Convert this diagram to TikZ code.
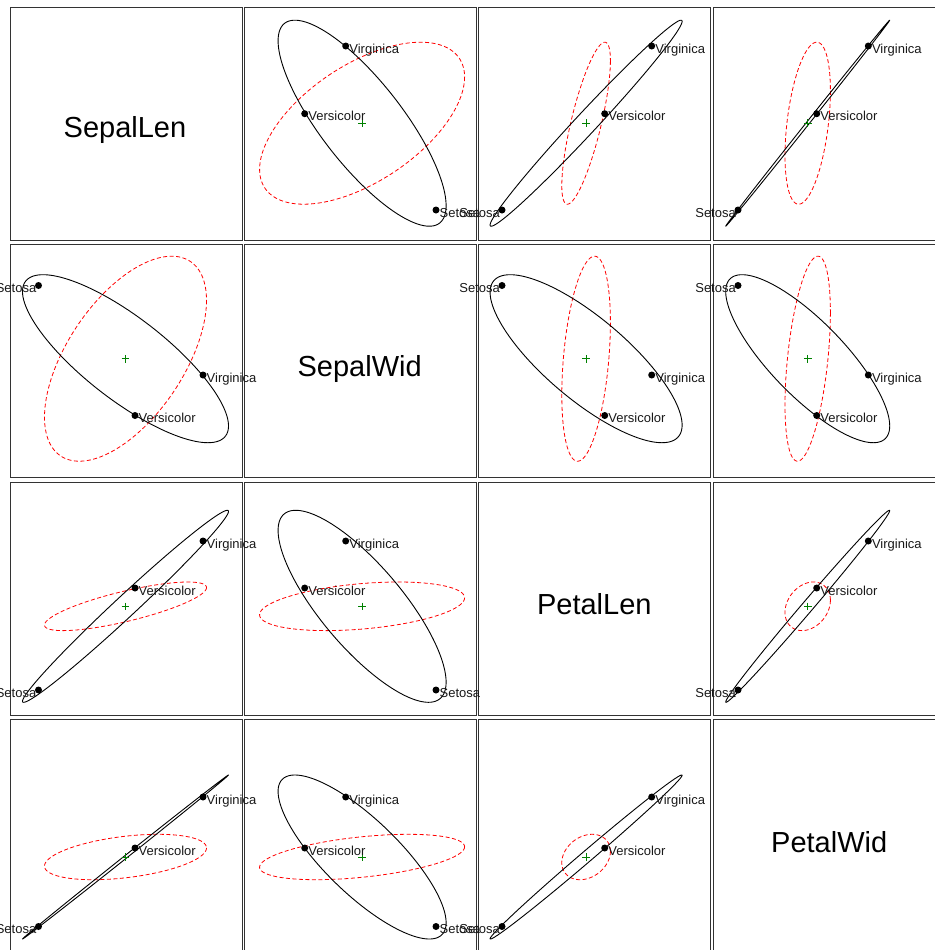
\documentclass[tikz,border=0pt]{standalone}
\usepackage{fontspec}
\setmainfont{Liberation Sans}
\begin{document}
\begin{tikzpicture}[x=1bp,y=-1bp,
  frame/.style={draw=black!80, line width=0.8bp},
  hell/.style={draw=black, line width=0.9bp, line join=round},
  eell/.style={draw=red, line width=0.8bp, dash pattern=on 4bp off 2.5bp},
  dot/.style={circle, fill=black, inner sep=0pt, minimum size=7bp},
  lab/.style={inner sep=0pt, text=black!90, font=\fontsize{13bp}{15bp}\selectfont},
  diag/.style={inner sep=0pt, font=\fontsize{29bp}{33bp}\selectfont},
  cent/.style={draw=green!50!black, line width=0.9bp}]
\useasboundingbox (0,0) rectangle (935,950);
\fill[white] (0,0) rectangle (935,950);
% layout
\def\colL{{10,244,478,713}}
\def\rowT{{7,244,482,719}}
% per-variable positions (x within a column, y within a row)
\def\xC{{115.5,118.1,108.1,94.7}}
\def\yC{{116.2,114.7,124.3,138}}
\def\xVi{{193,101.7,173.7,155.3}}
\def\xVe{{125,60.7,126.7,103.7}}
\def\xSe{{28.5,192,24,25}}
\def\yVi{{39,131,59,78}}
\def\yVe{{106.7,171.5,106,129}}
\def\ySe{{203,41.5,208,207.5}}
% half extents of H and E ellipses
\def\hh{{103,84,96,82}}
\def\ee{{81,102.5,24.3,22.7}}
% correlations (image coordinates)
\def\rH{{1,0.80,-0.9885,-0.9995, 0.80,1,0.79,0.80, -0.9885,0.79,1,-0.996, -0.9995,0.80,-0.996,1}}
\def\rE{{1,-0.57,-0.77,-0.40, -0.57,1,-0.35,-0.45, -0.77,-0.35,1,-0.25, -0.40,-0.45,-0.25,1}}
% frames
\foreach \i in {1,...,4}{
  \foreach \j in {1,...,4}{
    \pgfmathsetmacro{\fx}{\colL[\j-1]}
    \pgfmathsetmacro{\fy}{\rowT[\i-1]}
    \draw[frame] (\fx,\fy) rectangle ++(232,233);
  }
}
% diagonal titles
\foreach \k/\nm/\bx/\by in {1/SepalLen/125/137.3, 2/SepalWid/359.7/376, 3/PetalLen/594.3/614.3, 4/PetalWid/829.2/852.7}{
  \node[diag, anchor=base] (title\k) at (\bx,\by) {\nm};
}
% ellipses and centroids
\foreach \i in {1,...,4}{
  \foreach \j in {1,...,4}{
    \ifnum\i=\j\else
      \pgfmathsetmacro{\ecx}{\colL[\j-1]+\xC[\j-1]}
      \pgfmathsetmacro{\ecy}{\rowT[\i-1]+\yC[\i-1]}
      \pgfmathsetmacro{\ehw}{\hh[\j-1]}
      \pgfmathsetmacro{\ehh}{\hh[\i-1]}
      \pgfmathsetmacro{\eew}{\ee[\j-1]}
      \pgfmathsetmacro{\eeh}{\ee[\i-1]}
      \pgfmathsetmacro{\phH}{acos(\rH[4*(\i-1)+\j-1])}
      \pgfmathsetmacro{\phE}{acos(\rE[4*(\i-1)+\j-1])}
      \draw[eell] plot[variable=\t, domain=0:359, samples=240] ({\ecx+\eew*cos(\t)},{\ecy+\eeh*cos(\t-\phE)}) -- cycle;
      \draw[hell] plot[variable=\t, domain=0:359.5, samples=720] ({\ecx+\ehw*cos(\t)},{\ecy+\ehh*cos(\t-\phH)}) -- cycle;
      \draw[cent] (\ecx-3.8,\ecy) -- (\ecx+3.8,\ecy) (\ecx,\ecy-3.8) -- (\ecx,\ecy+3.8);
    \fi
  }
}
% group means and labels
\foreach \i in {1,...,4}{
  \foreach \j in {1,...,4}{
    \ifnum\i=\j\else
      \pgfmathsetmacro{\vix}{\colL[\j-1]+\xVi[\j-1]}
      \pgfmathsetmacro{\viy}{\rowT[\i-1]+\yVi[\i-1]}
      \pgfmathsetmacro{\vex}{\colL[\j-1]+\xVe[\j-1]}
      \pgfmathsetmacro{\vey}{\rowT[\i-1]+\yVe[\i-1]}
      \pgfmathsetmacro{\sex}{\colL[\j-1]+\xSe[\j-1]}
      \pgfmathsetmacro{\sey}{\rowT[\i-1]+\ySe[\i-1]}
      \node[dot] (vi\i\j) at (\vix,\viy) {};
      \node[dot] (ve\i\j) at (\vex,\vey) {};
      \node[dot] (se\i\j) at (\sex,\sey) {};
      \node[lab, anchor=base west] (viL\i\j) at (\vix+3.5,\viy+7) {Virginica};
      \node[lab, anchor=base west] (veL\i\j) at (\vex+3.5,\vey+7) {Versicolor};
      \ifnum\j=2
        \node[lab, anchor=base west] (seL\i\j) at (\sex+3.5,\sey+7) {Setosa};
      \else
        \node[lab, anchor=base east] (seL\i\j) at (\sex-2,\sey+7) {Setosa};
      \fi
    \fi
  }
}
\end{tikzpicture}
\end{document}
